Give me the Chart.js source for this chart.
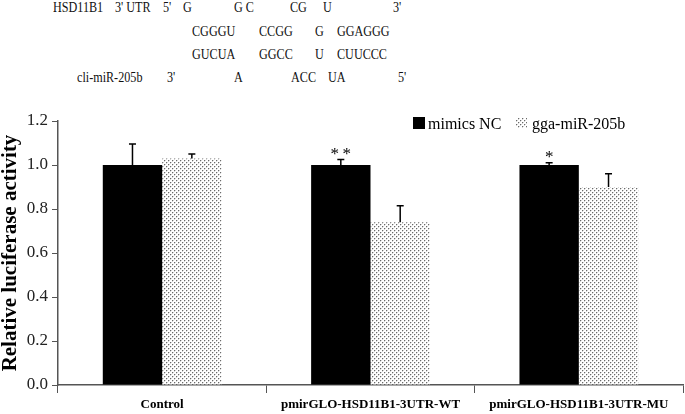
<!DOCTYPE html>
<html>
<head>
<meta charset="utf-8">
<script src="https://cdn.jsdelivr.net/npm/chart.js@4"></script>
<style>
  body { margin: 0; background: #fff; }
  #wrap { position: relative; width: 685px; height: 414px; }
  #graphic { position: absolute; left: 0; top: 0; }
  .seq { position: absolute; font: 15px "Liberation Serif", "Times New Roman", serif; color: #111;
         line-height: 15px; white-space: pre; transform: scaleX(0.81); transform-origin: 0 0; }
</style>
</head>
<body>
<div id="wrap">
  <div id="seqs"></div>
  <canvas id="graphic" width="685" height="414"></canvas>
</div>
<script>
// dados do gráfico
const categorias = ['Control', 'pmirGLO-HSD11B1-3UTR-WT', 'pmirGLO-HSD11B1-3UTR-MU'];
const mimicsNC = [1.0, 1.0, 1.0];
const mimicsNCErro = [0.095, 0.025, 0.01];
const mir205b = [1.03, 0.74, 0.90];
const mir205bErro = [0.02, 0.075, 0.06];
const significancia = ['', '**', '*'];
const rotulos = ['mimics NC', 'gga-miR-205b'];
const yMin = 0, yMax = 1.2, yPasso = 0.2;

// alinhamento da sequência (texto acima do gráfico)
const linha1 = ['HSD11B1', "3' UTR", "5'", 'G', 'G C', 'CG', 'U', "3'"];
const linha2 = ['CGGGU', 'CCGG', 'G', 'GGAGGG'];
const linha3 = ['GUCUA', 'GGCC', 'U', 'CUUCCC'];
const linha4 = ['cli-miR-205b', "3'", 'A', 'ACC', 'UA', "5'"];

// posições (px) de cada pedaço de texto
const colunas1 = [53, 115, 163, 183, 234, 290, 323, 393];
const colunas2 = [192, 259, 315, 337];
const colunas4 = [77, 167, 234, 291, 328, 398];
const baselines = [13, 37, 60, 83];

const seqs = document.getElementById('seqs');
function addLinha(textos, xs, base) {
    textos.forEach((t, i) => {
        const s = document.createElement('span');
        s.className = 'seq';
        s.textContent = t;
        s.style.left = xs[i] + 'px';
        s.style.top = (base - 12.6) + 'px';
        seqs.appendChild(s);
    });
}
addLinha(linha1, colunas1, baselines[0]);
addLinha(linha2, colunas2, baselines[1]);
addLinha(linha3, colunas2, baselines[2]);
addLinha(linha4, colunas4, baselines[3]);

// padrão pontilhado para as barras do miR-205b
function criarPadrao() {
    const c = document.createElement('canvas');
    c.width = 4; c.height = 4;
    const g = c.getContext('2d');
    g.fillStyle = '#fff';
    g.fillRect(0, 0, 4, 4);
    g.fillStyle = '#d4d4d4';
    [[1,0],[0,1],[3,2],[2,3]].forEach(([x, y]) => g.fillRect(x, y, 1, 1));
    g.fillStyle = '#6a6a6a';
    [[0,0],[2,2]].forEach(([x, y]) => g.fillRect(x, y, 1, 1));
    return g.createPattern(c, 'repeat');
}
const padrao = criarPadrao();

const serif = '"Liberation Serif", "Times New Roman", serif';

// barras de erro, asteriscos e legenda
const extras = {
    id: 'extras',
    afterDatasetsDraw(chart) {
        const ctx = chart.ctx;
        const y = chart.scales.y;
        const erros = [mimicsNCErro, mir205bErro];
        const valores = [mimicsNC, mir205b];
        ctx.save();
        ctx.strokeStyle = '#000';
        ctx.lineWidth = 1.5;
        [0, 1].forEach(d => {
            chart.getDatasetMeta(d).data.forEach((bar, i) => {
                const yTop = y.getPixelForValue(valores[d][i] + erros[d][i]);
                const yBar = y.getPixelForValue(valores[d][i]);
                ctx.beginPath();
                ctx.moveTo(bar.x, yBar);
                ctx.lineTo(bar.x, yTop);
                ctx.moveTo(bar.x - 3.5, yTop);
                ctx.lineTo(bar.x + 3.5, yTop);
                ctx.stroke();
                const sig = significancia[i];
                if (d === 0 && sig) {
                    ctx.fillStyle = '#000';
                    ctx.font = '17px ' + serif;
                    ctx.textAlign = 'center';
                    ctx.textBaseline = 'alphabetic';
                    const x0 = bar.x - (sig.length - 1) * 6;
                    for (let k = 0; k < sig.length; k++) {
                        ctx.fillText(sig[k], x0 + k * 12, yTop - 1);
                    }
                }
            });
        });

        // legenda
        ctx.fillStyle = '#000';
        ctx.fillRect(413, 117, 12, 12);
        ctx.fillStyle = padrao;
        ctx.fillRect(516, 118, 11, 10);
        ctx.fillStyle = '#000';
        ctx.font = '16px ' + serif;
        ctx.textAlign = 'left';
        ctx.textBaseline = 'alphabetic';
        ctx.fillText(rotulos[0], 428, 129);
        ctx.fillText(rotulos[1], 532, 129);
        ctx.restore();
    }
};

new Chart(document.getElementById('graphic'), {
    type: 'bar',
    data: {
        labels: categorias,
        datasets: [
            { label: rotulos[0], data: mimicsNC, backgroundColor: '#000', borderWidth: 0 },
            { label: rotulos[1], data: mir205b, backgroundColor: padrao, borderWidth: 0 }
        ]
    },
    options: {
        responsive: false,
        animation: false,
        layout: { padding: { top: 121, right: 2, bottom: 0, left: 0 } },
        datasets: { bar: { categoryPercentage: 0.57, barPercentage: 1.0 } },
        plugins: { legend: { display: false }, tooltip: { enabled: false } },
        scales: {
            x: {
                afterFit: s => { s.height = 29; },
                grid: { drawOnChartArea: false, tickLength: 8, color: '#555', offset: true },
                border: { color: '#555', width: 1.5 },
                ticks: { color: '#000', padding: 4, font: { family: serif, size: 13, weight: 'bold' } }
            },
            y: {
                min: yMin,
                max: yMax,
                afterFit: s => { s.width = 58; },
                grid: { drawOnChartArea: false, tickLength: 6, color: '#555' },
                border: { color: '#555', width: 1.5 },
                ticks: {
                    stepSize: yPasso,
                    color: '#222',
                    padding: 4,
                    font: { family: serif, size: 17 },
                    callback: v => v.toFixed(1)
                },
                title: {
                    display: true,
                    text: 'Relative luciferase activity',
                    color: '#000',
                    padding: 0,
                    font: { family: serif, size: 21, weight: 'bold', lineHeight: 1 }
                }
            }
        }
    },
    plugins: [extras]
});
</script>
</body>
</html>
